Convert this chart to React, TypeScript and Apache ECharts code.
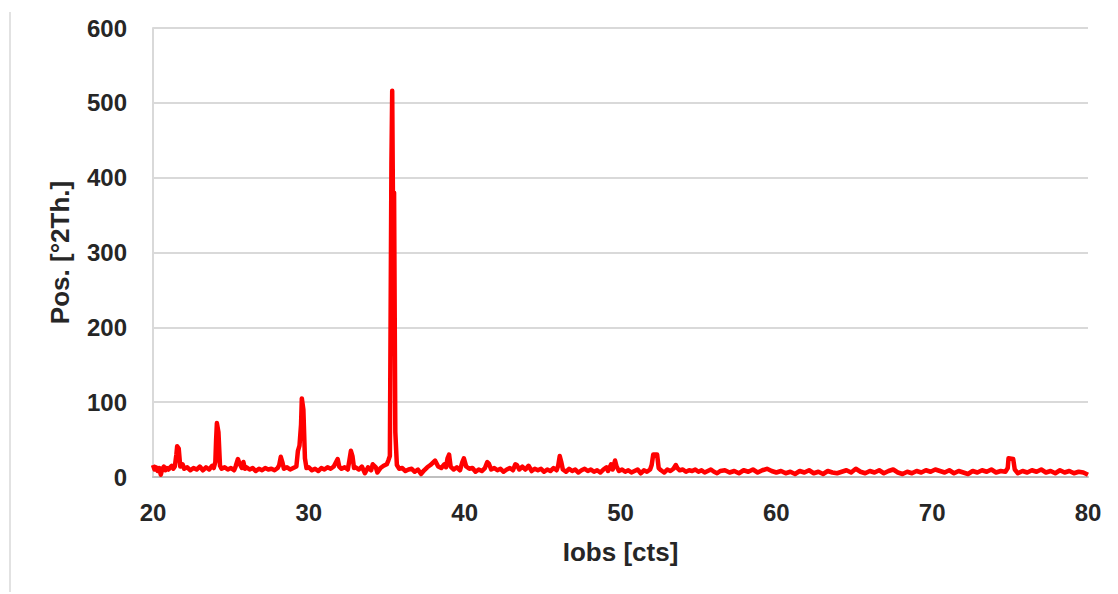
import React, { useEffect, useRef } from "react";
import * as echarts from "echarts";

const xTicks = [20, 30, 40, 50, 60, 70, 80];
const yTicks = [0, 100, 200, 300, 400, 500, 600];
const xTitle = "Iobs [cts]";
const yTitle = "Pos. [°2Th.]";

// [2θ, counts]
const scanLow: [number, number][] = [
  [20.0, 16], [20.1, 10], [20.2, 13], [20.3, 8], [20.4, 12], [20.5, 3], [20.6, 11], [20.7, 14],
  [20.8, 9], [20.9, 12], [21.0, 10], [21.1, 13], [21.2, 15], [21.3, 11], [21.4, 14],
  [21.5, 30], [21.55, 41], [21.65, 38], [21.75, 14], [21.9, 17], [22.0, 11], [22.2, 13],
  [22.4, 9], [22.6, 12], [22.8, 10], [23.0, 14], [23.2, 9], [23.4, 13], [23.6, 10], [23.8, 15],
  [23.9, 12], [24.0, 20], [24.05, 50], [24.1, 72], [24.2, 60], [24.3, 15], [24.4, 11],
  [24.6, 13], [24.8, 10], [25.0, 12], [25.2, 9], [25.3, 14], [25.45, 24], [25.55, 18],
  [25.7, 12], [25.8, 20], [25.9, 11], [26.0, 13], [26.2, 10], [26.4, 12], [26.6, 8],
  [26.8, 11], [27.0, 9], [27.2, 12], [27.4, 10], [27.6, 11], [27.8, 9], [28.0, 12],
  [28.1, 16], [28.2, 27], [28.3, 20], [28.4, 11], [28.6, 13], [28.8, 10], [29.0, 12],
  [29.2, 14], [29.3, 35], [29.4, 42], [29.5, 70], [29.55, 105], [29.65, 90], [29.75, 25],
  [29.85, 12], [30.0, 13], [30.2, 9], [30.4, 11], [30.6, 8], [30.8, 12], [31.0, 10],
  [31.2, 13], [31.4, 11], [31.6, 14], [31.75, 20], [31.85, 24], [31.95, 14], [32.1, 11],
  [32.3, 13], [32.5, 10], [32.6, 22], [32.7, 35], [32.8, 28], [32.9, 12], [33.0, 13],
  [33.2, 10], [33.4, 14], [33.6, 5], [33.8, 13], [34.0, 9], [34.1, 17], [34.3, 13],
  [34.4, 6], [34.6, 12], [34.8, 15], [35.0, 17], [35.1, 22], [35.2, 28],
];

const scanMain: [number, number][] = [
  [35.3, 420], [35.35, 516], [35.42, 300], [35.47, 380], [35.55, 60], [35.65, 16],
  [35.8, 11], [36.0, 12], [36.2, 8], [36.4, 10], [36.6, 11], [36.8, 7], [37.0, 10],
  [37.2, 4], [37.4, 9], [37.6, 13], [37.8, 16], [38.0, 20], [38.1, 22], [38.3, 14],
  [38.5, 12], [38.7, 17], [38.8, 13], [38.9, 25], [39.0, 30], [39.1, 14], [39.3, 10],
  [39.5, 13], [39.7, 9], [39.85, 20], [39.95, 25], [40.1, 14], [40.3, 11], [40.5, 12],
  [40.7, 7], [40.9, 10], [41.1, 8], [41.3, 12], [41.45, 20], [41.55, 18], [41.7, 10],
  [41.9, 12], [42.1, 9], [42.3, 11], [42.5, 7], [42.7, 10], [42.9, 12], [43.1, 9],
  [43.25, 17], [43.35, 16], [43.5, 10], [43.7, 14], [43.9, 10], [44.1, 15], [44.3, 8],
  [44.5, 11], [44.7, 9], [44.9, 11], [45.1, 7], [45.3, 10], [45.5, 8], [45.7, 12],
  [45.9, 9], [46.0, 15], [46.1, 28], [46.2, 20], [46.3, 10], [46.5, 7], [46.7, 11],
  [46.9, 8], [47.1, 10], [47.3, 6], [47.5, 9], [47.7, 11], [47.9, 8], [48.1, 10],
  [48.3, 7], [48.5, 9], [48.7, 6], [48.9, 10], [49.1, 13], [49.2, 8], [49.4, 17],
  [49.5, 10], [49.65, 22], [49.75, 14], [49.9, 8], [50.1, 10], [50.3, 7], [50.5, 9],
  [50.7, 6], [50.9, 8], [51.1, 10], [51.3, 5], [51.5, 9], [51.7, 7], [51.9, 10],
  [52.0, 16], [52.1, 30], [52.35, 30], [52.45, 12], [52.6, 9], [52.8, 6], [53.0, 10],
  [53.2, 8], [53.4, 11], [53.55, 16], [53.65, 12], [53.8, 9], [54.0, 10], [54.2, 7],
  [54.4, 9], [54.6, 8], [54.8, 10], [55.0, 7], [55.2, 9], [55.4, 6], [55.6, 8],
  [55.8, 10], [56.0, 7], [56.2, 5], [56.4, 8],
];

const scanHigh: [number, number][] = [
  [56.7, 9], [57.0, 6], [57.3, 8], [57.6, 5], [57.9, 9], [58.2, 7], [58.5, 10], [58.8, 6],
  [59.1, 9], [59.4, 11], [59.7, 8], [60.0, 6], [60.3, 8], [60.6, 5], [60.9, 7], [61.2, 4],
  [61.5, 8], [61.8, 6], [62.1, 9], [62.4, 5], [62.7, 7], [63.0, 4], [63.3, 8], [63.6, 6],
  [63.9, 5], [64.2, 7], [64.5, 9], [64.8, 6], [65.1, 11], [65.4, 7], [65.7, 5], [66.0, 8],
  [66.3, 6], [66.6, 9], [66.9, 5], [67.2, 8], [67.5, 10], [67.8, 6], [68.1, 4], [68.4, 7],
  [68.7, 5], [69.0, 8], [69.3, 6], [69.6, 9], [69.9, 7], [70.2, 10], [70.5, 8], [70.8, 6],
  [71.1, 9], [71.4, 5], [71.7, 8], [72.0, 6], [72.3, 4], [72.6, 8], [72.9, 6], [73.2, 9],
  [73.5, 7], [73.8, 10], [74.1, 6], [74.4, 8], [74.7, 7], [74.85, 12], [74.9, 25],
  [75.2, 24], [75.3, 10], [75.5, 5], [75.8, 8], [76.1, 6], [76.4, 9], [76.7, 7],
  [77.0, 10], [77.3, 6], [77.6, 8], [77.9, 5], [78.2, 9], [78.5, 6], [78.8, 8], [79.1, 5],
  [79.4, 7], [79.7, 6], [80.0, 3],
];

const FONT = "'Liberation Sans', Arial, sans-serif";
const TEXT = "#262626";

export default function App() {
  const ref = useRef<HTMLDivElement>(null);
  useEffect(() => {
    if (!ref.current) return;
    const chart = echarts.init(ref.current, undefined, { renderer: "svg" });
    const data = [...scanLow, ...scanMain, ...scanHigh];
    chart.setOption({
      animation: false,
      grid: { left: 153, right: 30, top: 28, bottom: 117, containLabel: false },
      graphic: [
        {
          type: "line",
          shape: { x1: 10, y1: 12, x2: 10, y2: 592 },
          style: { stroke: "#d9d9d9", lineWidth: 1.5 },
        },
      ],
      xAxis: {
        type: "value",
        min: xTicks[0],
        max: xTicks[xTicks.length - 1],
        interval: 10,
        name: xTitle,
        nameLocation: "middle",
        nameGap: 62,
        nameTextStyle: { fontFamily: FONT, fontWeight: "bold", fontSize: 26, color: TEXT },
        axisLine: { show: true, lineStyle: { color: "#bfbfbf", width: 2 } },
        axisTick: { show: false },
        splitLine: { show: false },
        axisLabel: {
          fontFamily: FONT, fontWeight: "bold", fontSize: 24, color: TEXT, margin: 23,
        },
      },
      yAxis: {
        type: "value",
        min: yTicks[0],
        max: yTicks[yTicks.length - 1],
        interval: 100,
        name: yTitle,
        nameLocation: "middle",
        nameRotate: 90,
        nameGap: 80,
        nameTextStyle: { fontFamily: FONT, fontWeight: "bold", fontSize: 26, color: TEXT },
        axisLine: { show: true, lineStyle: { color: "#d9d9d9", width: 2 } },
        axisTick: { show: false },
        splitLine: { show: true, lineStyle: { color: "#d9d9d9", width: 2 } },
        axisLabel: {
          fontFamily: FONT, fontWeight: "bold", fontSize: 24, color: TEXT, margin: 26,
        },
      },
      series: [
        {
          type: "line",
          data,
          showSymbol: false,
          symbol: "none",
          lineStyle: { color: "#ff0000", width: 4.5, join: "round" },
          z: 3,
        },
      ],
    });
    return () => chart.dispose();
  }, []);
  return <div ref={ref} style={{ width: 1118, height: 594, position: "absolute", left: 0, top: 0 }} />;
}
